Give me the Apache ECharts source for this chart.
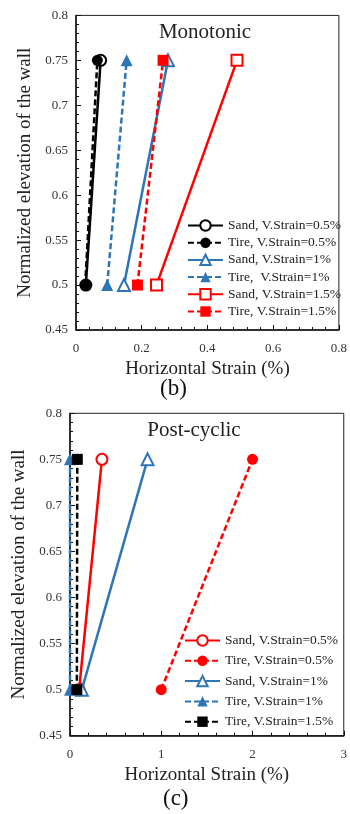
<!DOCTYPE html>
<html>
<head>
<meta charset="utf-8">
<script src="https://cdn.jsdelivr.net/npm/echarts@6/dist/echarts.min.js"></script>
<style>
html,body{margin:0;padding:0;background:#fff;}
#c1{width:350px;height:400px;}
#c2{width:350px;height:414px;}
</style>
</head>
<body>
<div id="c1"></div>
<div id="c2"></div>
<script>
// ---- Data (b) Monotonic ----
const monoTitle = "Monotonic";
const monoNames = ["Sand, V.Strain=0.5%", "Tire, V.Strain=0.5%", "Sand, V.Strain=1%", "Tire,  V.Strain=1%", "Sand, V.Strain=1.5%", "Tire, V.Strain=1.5%"];
const monoSand05 = [[0.03, 0.5], [0.075, 0.75]];
const monoTire05 = [[0.028, 0.5], [0.065, 0.75]];
const monoSand1  = [[0.146, 0.5], [0.28, 0.75]];
const monoTire1  = [[0.095, 0.5], [0.154, 0.75]];
const monoSand15 = [[0.245, 0.5], [0.49, 0.75]];
const monoTire15 = [[0.187, 0.5], [0.265, 0.75]];
const monoXTicks = [0, 0.2, 0.4, 0.6, 0.8];

// ---- Data (c) Post-cyclic ----
const postTitle = "Post-cyclic";
const postNames = ["Sand, V.Strain=0.5%", "Tire, V.Strain=0.5%", "Sand, V.Strain=1%", "Tire, V.Strain=1%", "Tire, V.Strain=1.5%"];
const postSand05 = [[0.1, 0.5], [0.35, 0.75]];
const postTire05 = [[1.0, 0.5], [2.0, 0.75]];
const postSand1  = [[0.13, 0.5], [0.85, 0.75]];
const postTire1  = [[0.0, 0.5], [0.0, 0.75]];
const postTire15 = [[0.075, 0.5], [0.08, 0.75]];
const postXTicks = [0, 1, 2, 3];

const yTicks = [0.45, 0.5, 0.55, 0.6, 0.65, 0.7, 0.75, 0.8];

const FONT = "'Liberation Serif', serif";
const BLACK = "#000000", BLUE = "#2E75B6", RED = "#FF0000";

function mkSeries(name, data, color, dashed, symbol, open) {
  return {
    name: name, type: 'line', data: data, clip: false,
    symbol: symbol, symbolSize: symbol === 'triangle' ? 12 : 11,
    lineStyle: { color: color, width: 2.5, type: dashed ? [6, 3] : 'solid' },
    itemStyle: open ? { color: '#fff', borderColor: color, borderWidth: 2 } : { color: color, borderColor: color, borderWidth: 0 },
    emphasis: { disabled: true },
    animation: false
  };
}

function baseOption(o) {
  const xt = o.xTicks;
  return {
    animation: false,
    title: {
      text: o.title, left: o.titleX, top: o.titleY, textAlign: 'center', padding: 0,
      textStyle: { fontFamily: FONT, fontSize: 21, fontWeight: 'normal', color: '#222' }
    },
    grid: { left: o.grid[0], top: o.grid[1], right: o.grid[2], bottom: o.grid[3], show: true, borderColor: '#222', borderWidth: 1, backgroundColor: 'transparent' },
    legend: {
      orient: 'vertical', left: o.legend[0], top: o.legend[1], padding: 0,
      itemWidth: 35, itemHeight: 13, itemGap: o.legendGap,
      data: o.names,
      selectedMode: false,
      textStyle: { fontFamily: FONT, fontSize: 13.5, color: '#222' }
    },
    xAxis: {
      type: 'value', min: xt[0], max: xt[xt.length - 1], interval: xt[1] - xt[0],
      name: 'Horizontal Strain (%)', nameLocation: 'middle', nameGap: o.xNameGap,
      nameTextStyle: { fontFamily: FONT, fontSize: 19, color: '#222' },
      axisLine: { show: true, onZero: false, lineStyle: { color: '#111', width: 1.5 } },
      axisTick: { show: true, inside: true, length: 5, lineStyle: { color: '#111' } },
      minorTick: { show: true, splitNumber: 5, length: 3, lineStyle: { color: '#111' } },
      splitLine: { show: false },
      axisLabel: { fontFamily: FONT, fontSize: 13, color: '#333', margin: 12 }
    },
    yAxis: {
      type: 'value', min: 0.45, max: 0.8, interval: 0.05,
      name: 'Normalized elevation of the wall', nameLocation: 'middle', nameGap: o.yNameGap,
      nameTextStyle: { fontFamily: FONT, fontSize: 19, color: '#222' },
      axisLine: { show: true, onZero: false, lineStyle: { color: '#111', width: 1.5 } },
      axisTick: { show: true, inside: true, length: 5, lineStyle: { color: '#111' } },
      minorTick: { show: true, splitNumber: 5, length: 3, lineStyle: { color: '#111' } },
      splitLine: { show: false },
      axisLabel: { fontFamily: FONT, fontSize: 13, color: '#333', margin: 8 }
    },
    graphic: [{
      type: 'text', left: o.capX, top: o.capY,
      style: { text: o.caption, font: "23px " + FONT, fill: '#111' }
    }],
    series: o.series
  };
}

const c1 = echarts.init(document.getElementById('c1'), null, { renderer: 'canvas' });
c1.setOption(baseOption({
  title: monoTitle, titleX: 205, titleY: 22,
  grid: [76, 15.4, 10, 70],
  legend: [187, 218.5], legendGap: 3.2,
  names: monoNames, xTicks: monoXTicks, yNameGap: 41, xNameGap: 23,
  caption: '(b)', capX: 160, capY: 377,
  series: [
    mkSeries(monoNames[0], monoSand05, BLACK, false, 'circle', true),
    mkSeries(monoNames[1], monoTire05, BLACK, true, 'circle', false),
    mkSeries(monoNames[2], monoSand1, BLUE, false, 'triangle', true),
    mkSeries(monoNames[3], monoTire1, BLUE, true, 'triangle', false),
    mkSeries(monoNames[4], monoSand15, RED, false, 'rect', true),
    mkSeries(monoNames[5], monoTire15, RED, true, 'rect', false)
  ]
}));

const c2 = echarts.init(document.getElementById('c2'), null, { renderer: 'canvas' });
c2.setOption(baseOption({
  title: postTitle, titleX: 194, titleY: 20,
  grid: [70, 13.3, 6, 78.3],
  legend: [184, 233.5], legendGap: 6.3,
  names: postNames, xTicks: postXTicks, yNameGap: 34, xNameGap: 25,
  caption: '(c)', capX: 163, capY: 387,
  series: [
    mkSeries(postNames[0], postSand05, RED, false, 'circle', true),
    mkSeries(postNames[1], postTire05, RED, true, 'circle', false),
    mkSeries(postNames[2], postSand1, BLUE, false, 'triangle', true),
    mkSeries(postNames[3], postTire1, BLUE, true, 'triangle', false),
    mkSeries(postNames[4], postTire15, BLACK, true, 'rect', false)
  ]
}));
</script>
</body>
</html>
